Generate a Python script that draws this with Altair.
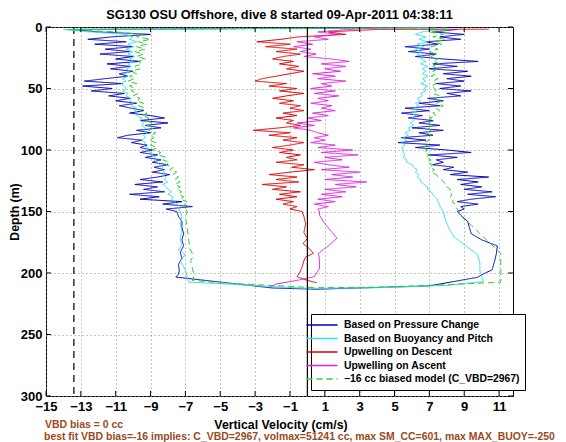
import altair as alt
import pandas as pd

# ---------------- data ----------------
DEPTH_GRID = [2, 4, 6, 8, 10, 12, 14, 16, 18, 20, 22, 24, 26, 28, 30, 32, 34, 36, 38, 40,
              42, 44, 46, 48, 50, 52, 54, 56, 58, 60, 62, 64, 66, 68, 70, 72, 74, 76, 78, 80,
              82, 84, 86, 88, 90, 92, 94, 96, 98, 100, 102, 104, 106, 108, 110, 112, 114, 116, 118, 120,
              122, 124, 126, 128, 130, 132, 134, 136, 138, 140, 142, 144, 146, 148, 150]

# Based on Pressure Change
BLUE_TOP_D = [0.4]
BLUE_TOP_W = [8.8]
BLUE_DOWN = [-13.5, -12.0, -9.0, -11.2, -12.6, -10.4, -12.2, -10.0, -11.6, -10.2,
             -11.9, -10.0, -11.0, -9.6, -11.5, -10.2, -11.3, -10.0, -10.8, -10.3,
             -11.6, -12.8, -10.6, -12.9, -11.2, -12.4, -10.5, -11.4, -10.2, -11.0,
             -9.8, -10.8, -10.1, -9.4, -10.2, -9.0, -8.2, -9.6, -8.0, -9.3,
             -8.4, -9.8, -9.0, -10.3, -10.9, -9.5, -10.1, -9.2, -9.6, -8.9,
             -9.6, -8.6, -9.3, -8.4, -8.9, -8.0, -8.8, -8.2, -8.9, -7.9,
             -8.6, -9.6, -8.3, -9.9, -8.6, -9.4, -8.2, -10.2, -8.5, -9.6,
             -7.2, -8.3, -6.6, -8.1, -7.5]
BLUE_DEEP_D = [154, 158, 163, 168, 173, 178, 183, 188, 193, 198, 201, 203.3, 212.2, 213.2,
               210.5, 203.5, 200, 197.5, 190, 184, 178, 173, 168, 163, 158, 153]
BLUE_DEEP_W = [-7.4, -7.2, -7.2, -7.1, -7.2, -7.1, -7.3, -7.2, -7.4, -7.35, -7.4, -7.55, -2.0, 0.5,
               7.0, 9.76, 10.2, 10.6, 10.75, 10.85, 10.9, 10.0, 9.4, 9.3, 9.2, 8.8]
BLUE_UP = [8.6, 7.2, 9.0, 7.6, 8.8, 6.8, 7.5, 5.6, 7.0, 5.8,
           7.4, 6.2, 7.8, 9.8, 7.2, 8.6, 7.0, 9.2, 7.8, 9.4,
           8.0, 9.0, 7.4, 8.8, 7.6, 9.4, 8.0, 8.8, 6.9, 7.8,
           6.4, 7.6, 5.6, 7.0, 5.4, 6.6, 5.8, 7.2, 6.4, 7.6,
           6.0, 7.8, 6.4, 7.2, 5.4, 6.8, 5.2, 7.6, 6.2, 8.0,
           9.4, 7.0, 8.6, 7.4, 7.8, 7.2, 8.4, 7.8, 9.2, 8.2,
           10.4, 8.6, 9.8, 8.8, 10.0, 9.0, 10.6, 9.2, 10.8, 9.4,
           8.6, 9.8, 8.8, 9.0, 8.6]

# Based on Buoyancy and Pitch
CYAN_TOP_D = [0.5]
CYAN_TOP_W = [7.0]
CYAN_DOWN = [-14.0, -12.5, -10.4, -10.0, -10.2, -9.8, -10.3, -10.0, -10.4, -10.0,
             -10.3, -9.9, -10.2, -10.0, -10.3, -10.1, -10.4, -10.2, -10.5, -10.3,
             -10.6, -10.4, -10.7, -10.5, -10.4, -10.6, -10.3, -10.4, -10.1, -10.2,
             -10.0, -10.1, -9.8, -9.9, -9.7, -9.8, -9.5, -9.6, -9.4, -9.5,
             -9.3, -9.4, -9.2, -9.4, -9.3, -9.5, -9.3, -9.4, -9.2, -9.3,
             -9.0, -8.9, -8.7, -8.8, -8.6, -8.5, -8.3, -8.4, -8.2, -8.3,
             -8.1, -8.2, -8.0, -8.3, -8.1, -8.0, -7.8, -8.0, -7.7, -7.8,
             -7.6, -7.5, -7.3, -7.4, -7.3]
CYAN_DEEP_D = [154, 160, 166, 172, 177, 181, 185, 190, 195, 200, 204, 207.5, 209, 211, 212.5,
               212, 210, 207, 203, 198, 192, 185, 178, 170.5, 163, 156]
CYAN_DEEP_W = [-7.2, -7.3, -7.2, -7.3, -7.2, -7.4, -7.0, -7.3, -7.1, -6.95, -6.9, -6.8, -4.5, -2.0, 0.0,
               4.0, 8.0, 10.1, 10.0, 9.9, 9.9, 9.76, 9.1, 8.4, 8.1, 7.9]
CYAN_UP = [7.5, 6.6, 6.2, 6.8, 6.4, 6.9, 6.3, 6.7, 6.2, 6.5,
           6.3, 6.6, 6.5, 6.8, 6.5, 6.9, 6.6, 6.8, 6.6, 6.9,
           6.6, 6.8, 6.5, 6.9, 6.7, 6.8, 6.5, 6.6, 6.3, 6.5,
           6.2, 6.4, 6.1, 6.3, 6.0, 6.2, 6.0, 6.1, 5.9, 6.1,
           5.8, 5.9, 5.6, 5.8, 5.5, 5.7, 5.4, 5.6, 5.4, 5.5,
           5.5, 5.6, 5.5, 5.7, 5.7, 6.0, 6.1, 6.3, 6.2, 6.4,
           6.3, 6.5, 6.5, 6.7, 6.9, 6.9, 7.1, 7.2, 7.3, 7.45,
           7.5, 7.6, 7.6, 7.7, 7.8]

# Upwelling on Descent
RED_TOP_D = [1.8]
RED_TOP_W = [10.4]
RED = [4.0, 1.2, 2.2, -0.5, -1.5, -2.9, -1.0, -2.4, -0.6, -1.8,
       -0.4, -1.4, -2.0, -0.8, -1.6, -0.5, -1.2, -0.2, -1.0, -1.8,
       -2.6, -3.0, -1.2, -2.2, -0.6, -1.6, -0.2, -1.2, -2.0, -0.8,
       -1.6, -0.4, -1.0, -0.2, -1.4, -0.6, -1.8, -0.8, -1.2, -0.4,
       -1.6, -3.1, -1.0, -2.2, -0.6, -1.4, -0.2, -1.0, -2.0, -0.8,
       -1.6, -0.4, -1.2, -0.6, -1.8, -0.2, -0.9, 0.4, -1.0, -2.2,
       -0.6, -1.8, -0.5, -2.6, -1.2, -2.0, -0.4, -1.6, -0.6, -1.8,
       -0.8, -1.4, -0.6, -1.0, -0.3]
RED_DEEP_D = [154, 160, 167, 172, 176, 180, 184, 187, 190, 195, 200, 203, 206, 208]
RED_DEEP_W = [-0.2, -0.1, -0.2, 0.0, -0.25, 0.1, 0.35, -0.1, -0.2, -0.3, -0.45, -0.6, 0.0, 0.55]

# Upwelling on Ascent
MAG_TOP_D = [0.5]
MAG_TOP_W = [4.0]
MAG = [2.4, 0.6, 1.8, 0.4, 1.2, -0.6, 0.3, -0.8, 0.2, -0.4,
       0.5, -0.2, 1.4, 2.4, 0.8, 2.2, 1.0, 1.9, 0.3, 1.6,
       0.6, 2.2, 0.8, 1.4, 0.2, 1.6, 0.4, 1.8, 0.6, 1.2,
       0.2, 1.4, 0.8, 1.6, 0.3, 1.2, 0.0, 0.8, -0.6, 0.4,
       -0.8, 0.2, 0.6, 1.2, 0.4, 1.0, 0.2, 1.6, 0.6, 2.6,
       0.8, 2.9, 1.0, 2.0, 0.4, 1.2, 2.4, 0.8, 3.0, 1.4,
       2.6, 1.0, 3.4, 1.6, 2.8, 1.0, 2.2, 0.8, 2.0, 0.6,
       1.6, 0.4, 1.2, 0.6, 0.7]
MAG_DEEP_D = [153, 158, 165, 171.7, 178, 184, 190, 196, 203, 206, 209, 211]
MAG_DEEP_W = [0.7, 0.9, 1.3, 1.7, 1.2, 0.64, 0.7, 0.7, 0.4, -0.6, -1.8, -2.1]

# -16 cc biased model
GREEN_TOP_D = [0.8]
GREEN_TOP_W = [8.0]
GREEN_DOWN = [-13.8, -11.0, -9.4, -9.8, -9.0, -9.7, -9.2, -9.8, -9.3, -9.9,
              -9.4, -9.8, -9.3, -9.7, -9.5, -9.9, -9.6, -10.1, -9.8, -10.2,
              -9.9, -10.3, -9.8, -10.2, -9.9, -10.1, -9.7, -10.0, -9.6, -9.8,
              -9.4, -9.7, -9.3, -9.6, -9.2, -9.5, -9.1, -9.3, -8.9, -9.2,
              -8.8, -9.1, -8.7, -9.0, -8.8, -9.1, -8.7, -9.0, -8.6, -8.9,
              -8.4, -8.6, -8.1, -8.3, -7.9, -8.1, -7.7, -7.9, -7.5, -7.7,
              -7.4, -7.6, -7.3, -7.6, -7.3, -7.5, -7.2, -7.4, -7.1, -7.3,
              -6.9, -7.1, -6.8, -7.0, -6.9]
GREEN_DEEP_D = [155, 162, 168, 174, 180, 186, 190, 196, 202, 206, 208, 210.5, 212,
                211.5, 209.5, 207.5, 200, 192, 184, 176, 168, 161, 155]
GREEN_DEEP_W = [-7.0, -6.9, -6.85, -6.8, -6.75, -6.55, -6.7, -6.6, -6.5, -6.6, -5.0, -1.5, 0.5,
                4.0, 8.0, 11.1, 11.1, 11.1, 11.1, 10.5, 9.9, 9.4, 8.9]
GREEN_UP = [8.2, 7.0, 7.8, 7.2, 7.9, 7.3, 7.7, 7.1, 7.5, 7.0,
            7.4, 7.1, 7.5, 7.2, 7.6, 7.2, 7.5, 7.2, 7.4, 7.1,
            7.5, 7.2, 7.4, 7.1, 7.3, 7.4, 7.2, 7.6, 7.3, 7.7,
            7.4, 7.8, 7.4, 7.6, 7.2, 7.4, 7.0, 7.3, 6.9, 7.2,
            6.9, 7.1, 6.8, 7.1, 6.9, 7.0, 6.7, 6.9, 6.6, 6.9,
            6.7, 7.0, 6.8, 7.1, 6.9, 7.2, 7.0, 7.3, 7.1, 7.4,
            7.5, 7.7, 7.8, 8.0, 8.0, 8.2, 8.1, 8.3, 8.2, 8.4,
            8.3, 8.5, 8.5, 8.6, 8.7]

SERIES = ["Based on Pressure Change", "Based on Buoyancy and Pitch",
          "Upwelling on Descent", "Upwelling on Ascent",
          "\u221216 cc biased model (C_VBD=2967)"]
COLORS = ["#0000c0", "#33e0e0", "#e00000", "#e020e0", "#33cc33"]
DASHES = [[1, 0], [1, 0], [1, 0], [1, 0], [6, 4]]

TICKS_X = [-15, -13, -11, -9, -7, -5, -3, -1, 1, 3, 5, 7, 9, 11]
TICKS_Y = [0, 50, 100, 150, 200, 250, 300]
REF_ZERO = [0.0]
REF_LIMIT = [-13.4]

TITLE = "SG130 OSU Offshore, dive 8 started 09-Apr-2011 04:38:11"
NOTE1 = "VBD bias = 0 cc"
NOTE2 = "best fit VBD bias=-16 implies: C_VBD=2967, volmax=51241 cc, max SM_CC=601, max MAX_BUOY=-250"

# ---------------- build table ----------------
rows = []


def add(name, *parts):
    k = 0
    for ds, ws in parts:
        for d, w in zip(ds, ws):
            rows.append({"series": name, "i": k, "depth": d, "w": w})
            k += 1


add(SERIES[0], (BLUE_TOP_D, BLUE_TOP_W), (DEPTH_GRID, BLUE_DOWN), (BLUE_DEEP_D, BLUE_DEEP_W),
    (DEPTH_GRID[::-1], BLUE_UP[::-1]))
add(SERIES[1], (CYAN_TOP_D, CYAN_TOP_W), (DEPTH_GRID, CYAN_DOWN), (CYAN_DEEP_D, CYAN_DEEP_W),
    (DEPTH_GRID[::-1], CYAN_UP[::-1]))
add(SERIES[2], (RED_TOP_D, RED_TOP_W), (DEPTH_GRID, RED), (RED_DEEP_D, RED_DEEP_W))
add(SERIES[3], (MAG_TOP_D, MAG_TOP_W), (DEPTH_GRID, MAG), (MAG_DEEP_D, MAG_DEEP_W))
add(SERIES[4], (GREEN_TOP_D, GREEN_TOP_W), (DEPTH_GRID, GREEN_DOWN), (GREEN_DEEP_D, GREEN_DEEP_W),
    (DEPTH_GRID[::-1], GREEN_UP[::-1]))
df = pd.DataFrame(rows)

W, H = 467, 369
FONT = "Liberation Sans"

x_enc = alt.X("w:Q", scale=alt.Scale(domain=[-15, 11.8], nice=False, zero=False),
              axis=alt.Axis(values=TICKS_X, format="d", title="Vertical Velocity (cm/s)",
                            labelFlush=False, labelOverlap=False,
                            titleX=W / 2 + 1, titleY=28, titleBaseline="middle"))
y_enc = alt.Y("depth:Q", scale=alt.Scale(domain=[0, 300], reverse=True, nice=False, zero=False),
              axis=alt.Axis(values=TICKS_Y, format="d", title="Depth (m)",
                            labelFlush=False, labelOverlap=False,
                            titleX=-32, titleY=H / 2, titleBaseline="middle", titleAngle=270))

leg = dict(title=None, orient="none", legendX=265, legendY=287, direction="vertical",
           symbolType="M-3.1,0H3.1", symbolSize=100, symbolStrokeWidth=1.5,
           labelFont=FONT, labelFontWeight="bold", labelFontSize=10.4, labelColor="black",
           labelOffset=16, rowPadding=1.5, strokeColor="black", fillColor="white",
           padding=5, labelLimit=400)

lines = alt.Chart(df).mark_line(strokeWidth=1, clip=True).encode(
    x=x_enc, y=y_enc,
    color=alt.Color("series:N", scale=alt.Scale(domain=SERIES, range=COLORS), legend=alt.Legend(**leg)),
    strokeDash=alt.StrokeDash("series:N", scale=alt.Scale(domain=SERIES, range=DASHES),
                              legend=alt.Legend(**leg)),
    order=alt.Order("i:Q"),
)

zero_rule = alt.Chart(pd.DataFrame({"w": REF_ZERO})).mark_rule(color="black", strokeWidth=1.2).encode(x=x_enc)
lim_rule = alt.Chart(pd.DataFrame({"w": REF_LIMIT})).mark_rule(
    color="black", strokeWidth=1.2, strokeDash=[7, 5]).encode(x=x_enc)

xt = pd.DataFrame({"w": TICKS_X})
yt = pd.DataFrame({"depth": TICKS_Y})
tick_b = alt.Chart(xt).mark_rule(color="black").encode(x=x_enc, y=alt.value(H), y2=alt.value(H - 5))
tick_t = alt.Chart(xt).mark_rule(color="black").encode(x=x_enc, y=alt.value(0), y2=alt.value(5))
tick_l = alt.Chart(yt).mark_rule(color="black").encode(y=y_enc, x=alt.value(0), x2=alt.value(5))
tick_r = alt.Chart(yt).mark_rule(color="black").encode(y=y_enc, x=alt.value(W), x2=alt.value(W - 5))

note1 = alt.Chart(pd.DataFrame({"t": [NOTE1]})).mark_text(
    align="left", baseline="middle", font=FONT, fontWeight="bold", fontSize=10.45, color="#9a4a1c"
).encode(text="t:N", x=alt.value(-1), y=alt.value(397.5))
note2 = alt.Chart(pd.DataFrame({"t": [NOTE2]})).mark_text(
    align="left", baseline="middle", font=FONT, fontWeight="bold", fontSize=10.45, color="#9a4a1c"
).encode(text="t:N", x=alt.value(-2), y=alt.value(410))

chart = alt.layer(lim_rule, lines, zero_rule, tick_b, tick_t, tick_l, tick_r, note1, note2).properties(
    width=W, height=H,
    title=alt.Title(TITLE, font=FONT, fontSize=12.75, fontWeight="bold", color="black",
                    anchor="middle", offset=-1),
    autosize=alt.AutoSizeParams(type="none"),
    padding={"left": 38, "top": 19, "right": 45, "bottom": 46},
).configure_view(stroke="black", strokeWidth=1).configure_axis(
    labelFont=FONT, labelFontWeight="bold", labelFontSize=13, labelColor="black",
    titleFont=FONT, titleFontWeight="bold", titleFontSize=12.3, titleColor="black",
    ticks=False, domain=False, labelPadding=4,
    gridColor="#8a8a8a", gridDash=[1, 3], gridWidth=1, gridOpacity=1,
)

chart.save("out.html", embed_options={"renderer": "svg", "actions": False})
